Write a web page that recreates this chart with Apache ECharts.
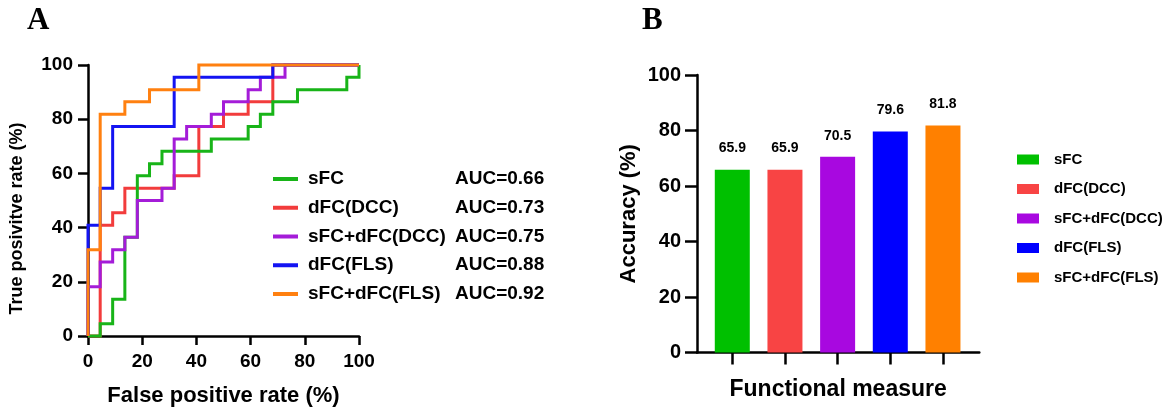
<!DOCTYPE html>
<html>
<head>
<meta charset="utf-8">
<script src="https://cdn.jsdelivr.net/npm/echarts@6/dist/echarts.min.js"></script>
<style>
html,body{margin:0;padding:0;background:#ffffff;}
#chart{width:1169px;height:415px;}
</style>
</head>
<body>
<div id="chart"></div>
<script>
// ---------- data ----------
const seriesNames = ['sFC', 'dFC(DCC)', 'sFC+dFC(DCC)', 'dFC(FLS)', 'sFC+dFC(FLS)'];
const aucValues = ['0.66', '0.73', '0.75', '0.88', '0.92'];
const accuracyValues = [65.9, 65.9, 70.5, 79.6, 81.8];
const rocTicks = [0, 20, 40, 60, 80, 100];
const accuracyTicks = [0, 20, 40, 60, 80, 100];

// ROC curves: [false positive rate %, true positive rate %]
const rocSFC = [[0,0],[4.5,0],[4.5,4.5],[9.1,4.5],[9.1,13.6],[13.6,13.6],[13.6,36.4],[18.2,36.4],[18.2,59.1],[22.7,59.1],[22.7,63.6],[27.3,63.6],[27.3,68.2],[45.5,68.2],[45.5,72.7],[59.1,72.7],[59.1,77.3],[63.6,77.3],[63.6,81.8],[68.2,81.8],[68.2,86.4],[77.3,86.4],[77.3,90.9],[95.5,90.9],[95.5,95.5],[100,95.5],[100,100]];
const rocDFCDCC = [[0,0],[4.5,0],[4.5,40.9],[9.1,40.9],[9.1,45.5],[13.6,45.5],[13.6,54.5],[31.8,54.5],[31.8,59.1],[40.9,59.1],[40.9,77.3],[50,77.3],[50,81.8],[59.1,81.8],[59.1,86.4],[68.2,86.4],[68.2,100],[100,100]];
const rocSFCDFCDCC = [[0,0],[0,18.2],[4.5,18.2],[4.5,27.3],[9.1,27.3],[9.1,31.8],[13.6,31.8],[13.6,36.4],[18.2,36.4],[18.2,50],[27.3,50],[27.3,54.5],[31.8,54.5],[31.8,72.7],[36.4,72.7],[36.4,77.3],[45.5,77.3],[45.5,81.8],[50,81.8],[50,86.4],[59.1,86.4],[59.1,90.9],[63.6,90.9],[63.6,95.5],[72.7,95.5],[72.7,100],[100,100]];
const rocDFCFLS = [[0,0],[0,40.9],[4.5,40.9],[4.5,54.5],[9.1,54.5],[9.1,77.3],[31.8,77.3],[31.8,95.5],[68.2,95.5],[68.2,100],[100,100]];
const rocSFCDFCFLS = [[0,0],[0,31.8],[4.5,31.8],[4.5,81.8],[13.6,81.8],[13.6,86.4],[22.7,86.4],[22.7,90.9],[40.9,90.9],[40.9,100],[100,100]];

// ---------- styles ----------
const lineColors = ['#18B418', '#F23C3C', '#A41CD8', '#1414F2', '#FF8010'];
const barColors = ['#00C000', '#F84444', '#A808E0', '#0000FF', '#FF8000'];
const FONT = '"Liberation Sans", Arial, sans-serif';
const rocData = [rocSFC, rocDFCDCC, rocSFCDFCDCC, rocDFCFLS, rocSFCDFCFLS];
const drawOrder = [1, 0, 2, 3, 4];
const BAR_PREFIX = 'acc:';

const axisLineStyle = { color: '#000', width: 2.5 };
const boldText = (size) => ({ fontSize: size, fontWeight: 'bold', color: '#000', fontFamily: FONT });

const lineSeries = drawOrder.map(i => ({
  name: seriesNames[i],
  type: 'line',
  xAxisIndex: 0, yAxisIndex: 0,
  data: rocData[i],
  showSymbol: false,
  symbol: 'none',
  clip: false,
  color: lineColors[i],
  lineStyle: { width: 3, color: lineColors[i], join: 'miter' },
  z: 2 + drawOrder.indexOf(i),
  animation: false
}));

const barSeries = seriesNames.map((n, i) => ({
  name: BAR_PREFIX + n,
  type: 'bar',
  xAxisIndex: 1, yAxisIndex: 1,
  stack: 'acc',
  barWidth: 35,
  data: [[i, accuracyValues[i]]],
  color: barColors[i],
  itemStyle: { color: barColors[i] },
  label: {
    show: true, position: 'top', distance: 14,
    formatter: p => p.value[1].toFixed(1),
    ...boldText(14)
  },
  animation: false
}));

const option = {
  backgroundColor: '#ffffff',
  animation: false,
  grid: [
    { left: 88, top: 65, width: 271, height: 271 },
    { left: 697, top: 75, width: 282.3, height: 277.5 }
  ],
  xAxis: [
    {
      gridIndex: 0, type: 'value', min: rocTicks[0], max: rocTicks[rocTicks.length - 1], interval: 20,
      axisLine: { show: true, onZero: false, lineStyle: axisLineStyle },
      axisTick: { show: true, length: 9, lineStyle: axisLineStyle },
      axisLabel: { margin: 16, ...boldText(19) },
      splitLine: { show: false },
      name: 'False positive rate (%)', nameLocation: 'middle', nameGap: 49,
      nameTextStyle: boldText(22)
    },
    {
      gridIndex: 1, type: 'value', min: -0.67, max: 4.69,
      axisLine: { show: true, onZero: false, lineStyle: axisLineStyle },
      axisTick: { show: true, length: 12, lineStyle: axisLineStyle, customValues: [0, 1, 2, 3, 4] },
      axisLabel: { show: false },
      splitLine: { show: false },
      name: 'Functional measure', nameLocation: 'middle', nameGap: 26,
      nameTextStyle: boldText(23)
    }
  ],
  yAxis: [
    {
      gridIndex: 0, type: 'value', min: rocTicks[0], max: rocTicks[rocTicks.length - 1], interval: 20,
      axisLine: { show: true, onZero: false, lineStyle: axisLineStyle },
      axisTick: { show: true, length: 10, lineStyle: axisLineStyle },
      axisLabel: { margin: 15, ...boldText(19) },
      splitLine: { show: false },
      name: 'True posivitve rate (%)', nameLocation: 'middle', nameGap: 62,
      nameTextStyle: { ...boldText(18), padding: [0, 36, 0, 0] }
    },
    {
      gridIndex: 1, type: 'value', min: accuracyTicks[0], max: accuracyTicks[accuracyTicks.length - 1], interval: 20,
      axisLine: { show: true, onZero: false, lineStyle: axisLineStyle },
      axisTick: { show: true, length: 12, lineStyle: axisLineStyle },
      axisLabel: { margin: 16, ...boldText(20) },
      splitLine: { show: false },
      name: 'Accuracy (%)', nameLocation: 'middle', nameGap: 57,
      nameTextStyle: boldText(22)
    }
  ],
  legend: [
    {
      data: seriesNames,
      orient: 'vertical', left: 268, top: 164.5,
      icon: 'rect', itemWidth: 25, itemHeight: 4, itemGap: 9.75,
      selectedMode: false,
      textStyle: {
        ...boldText(19), lineHeight: 19, padding: [0, 0, 0, 5],
        rich: {
          n: { ...boldText(19), width: 147, lineHeight: 19 },
          a: { ...boldText(19), lineHeight: 19 }
        }
      },
      formatter: name => '{n|' + name + '}{a|AUC=' + aucValues[seriesNames.indexOf(name)] + '}'
    },
    {
      data: seriesNames.map(n => BAR_PREFIX + n),
      orient: 'vertical', left: 1012, top: 147,
      icon: 'rect', itemWidth: 22, itemHeight: 10, itemGap: 14.5,
      selectedMode: false,
      textStyle: { ...boldText(15), lineHeight: 15, padding: [0, 0, 0, 10] },
      formatter: name => name.replace(BAR_PREFIX, '')
    }
  ],
  graphic: [
    { type: 'text', left: 27, top: 5, style: { text: 'A', font: 'bold 31px "Liberation Serif", "Times New Roman", serif', fill: '#000' } },
    { type: 'text', left: 642, top: 5, style: { text: 'B', font: 'bold 31px "Liberation Serif", "Times New Roman", serif', fill: '#000' } }
  ],
  series: [...lineSeries, ...barSeries]
};

const chart = echarts.init(document.getElementById('chart'), null, { renderer: 'canvas' });
chart.setOption(option);
</script>
</body>
</html>
